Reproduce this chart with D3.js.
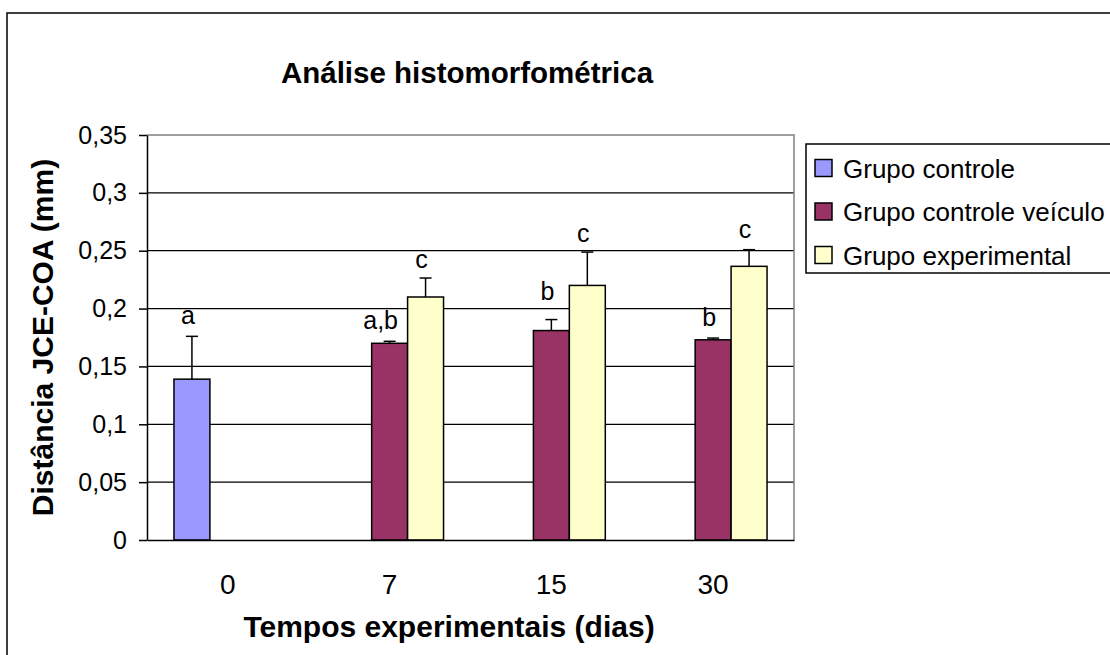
<!DOCTYPE html>
<html><head><meta charset="utf-8">
<script src="https://cdn.jsdelivr.net/npm/d3@7"></script>
<style>
body{margin:0;background:#fff}
svg{display:block}
text{font-family:Arial,"Liberation Sans",sans-serif;fill:#000}
</style>
</head><body>
<svg id="chart" width="1110" height="655"></svg>
<script>
// ---- data ----
const categories = ["0", "7", "15", "30"];
const seriesNames = ["Grupo controle", "Grupo controle veículo", "Grupo experimental"];
const seriesColors = ["#9999FF", "#993366", "#FFFFCC"];
const grupoControle      = [0.139, 0, 0, 0];
const grupoVeiculo       = [0, 0.170, 0.181, 0.173];
const grupoExperimental  = [0, 0.210, 0.220, 0.2365];
const errControle        = [0.037, 0, 0, 0];
const errVeiculo         = [0, 0.0017, 0.0095, 0.0015];
const errExperimental    = [0, 0.0164, 0.0288, 0.0144];
const labelsControle     = ["a", "", "", ""];
const labelsVeiculo      = ["", "a,b", "b", "b"];
const labelsExperimental = ["", "c", "c", "c"];
const labelAtControle     = [0.1867, 0, 0, 0];
const labelAtVeiculo      = [0, 0.1823, 0.2074, 0.1849];
const labelAtExperimental = [0, 0.2353, 0.2577, 0.2609];
const yTicks      = [0, 0.05, 0.1, 0.15, 0.2, 0.25, 0.3, 0.35];
const yTickLabels = ["0", "0,05", "0,1", "0,15", "0,2", "0,25", "0,3", "0,35"];
const titleText  = "Análise histomorfométrica";
const yTitleText = "Distância JCE-COA (mm)";
const xTitleText = "Tempos experimentais (dias)";

const seriesValues = [grupoControle, grupoVeiculo, grupoExperimental];
const seriesErr    = [errControle, errVeiculo, errExperimental];
const seriesLabels = [labelsControle, labelsVeiculo, labelsExperimental];
const seriesLabelAt = [labelAtControle, labelAtVeiculo, labelAtExperimental];

// ---- layout ----
const svg = d3.select("#chart");
const plot = {left: 147, right: 794, top: 135, bottom: 540};

// outer chart border
svg.append("rect").attr("x", 7).attr("y", 13).attr("width", 1200).attr("height", 800)
  .attr("fill", "#fff").attr("stroke", "#000").attr("stroke-width", 1.5);

const y = d3.scaleLinear().domain([0, 0.35]).range([plot.bottom, plot.top]);
const x0 = d3.scaleBand().domain(categories).range([plot.left, plot.right]).padding(0);
const x1 = d3.scaleBand().domain(d3.range(seriesNames.length)).range([0, x0.bandwidth()])
  .paddingInner(0).paddingOuter(0.75);

// gridlines
svg.append("g").selectAll("line").data(yTicks.filter(t => t > 0 && t < 0.35)).join("line")
  .attr("x1", plot.left).attr("x2", plot.right)
  .attr("y1", d => y(d)).attr("y2", d => y(d))
  .attr("stroke", "#000").attr("stroke-width", 1.3);

// plot area top/right border (gray)
svg.append("path")
  .attr("d", `M${plot.left},${y(0.35)}H${plot.right}V${plot.bottom}`)
  .attr("fill", "none").attr("stroke", "#808080").attr("stroke-width", 1.5);

// bars
const groups = svg.append("g").selectAll("g").data(categories).join("g")
  .attr("transform", d => `translate(${x0(d)},0)`);

seriesValues.forEach((vals, s) => {
  groups.filter((d, i) => vals[i] > 0).append("rect")
    .attr("x", x1(s)).attr("width", x1.bandwidth())
    .attr("y", (d) => y(vals[categories.indexOf(d)]))
    .attr("height", (d) => y(0) - y(vals[categories.indexOf(d)]))
    .attr("fill", seriesColors[s]).attr("stroke", "#000").attr("stroke-width", 1.5);
});

// error bars (upper only)
seriesValues.forEach((vals, s) => {
  const errs = seriesErr[s];
  groups.filter((d, i) => vals[i] > 0 && errs[i] > 0).each(function(d) {
    const i = categories.indexOf(d);
    const cx = x1(s) + x1.bandwidth() / 2;
    const g = d3.select(this);
    g.append("line").attr("x1", cx).attr("x2", cx)
      .attr("y1", y(vals[i])).attr("y2", y(vals[i] + errs[i]))
      .attr("stroke", "#000").attr("stroke-width", 1.5);
    g.append("line").attr("x1", cx - 6).attr("x2", cx + 6)
      .attr("y1", y(vals[i] + errs[i])).attr("y2", y(vals[i] + errs[i]))
      .attr("stroke", "#000").attr("stroke-width", 1.5);
  });
});

// significance labels
seriesLabels.forEach((labs, s) => {
  groups.filter((d, i) => labs[i] !== "").append("text")
    .attr("x", d => x1(s) + x1.bandwidth() / 2 - (labs[categories.indexOf(d)].length > 1 ? 9 : 4))
    .attr("y", d => y(seriesLabelAt[s][categories.indexOf(d)]))
    .attr("text-anchor", "middle").attr("font-size", 25)
    .text(d => labs[categories.indexOf(d)]);
});

// y axis
const yAxis = d3.axisLeft(y).tickValues(yTicks)
  .tickFormat((d, i) => yTickLabels[i]).tickSize(8).tickSizeOuter(0).tickPadding(12);
const gy = svg.append("g").attr("transform", `translate(${plot.left},0)`).call(yAxis);
gy.select(".domain").attr("stroke", "#000").attr("stroke-width", 1.5);
gy.selectAll(".tick line").attr("stroke", "#000").attr("stroke-width", 1.5);
gy.selectAll(".tick text").attr("font-size", 25).attr("font-family", "Arial, 'Liberation Sans', sans-serif").attr("fill", "#000");

// x axis
const xAxis = d3.axisBottom(x0).tickSize(0).tickSizeOuter(0).tickPadding(34);
const gx = svg.append("g").attr("transform", `translate(0,${plot.bottom})`).call(xAxis);
gx.select(".domain").attr("stroke", "#000").attr("stroke-width", 1.5);
gx.selectAll(".tick text").attr("font-size", 28).attr("font-family", "Arial, 'Liberation Sans', sans-serif").attr("fill", "#000");

// titles
svg.append("text").attr("x", 467).attr("y", 83).attr("text-anchor", "middle")
  .attr("font-size", 29.5).attr("font-weight", "bold").text(titleText);
svg.append("text").attr("x", 449).attr("y", 637).attr("text-anchor", "middle")
  .attr("font-size", 30).attr("font-weight", "bold").text(xTitleText);
svg.append("text").attr("transform", `translate(53,${(plot.top + plot.bottom) / 2}) rotate(-90)`)
  .attr("text-anchor", "middle")
  .attr("font-size", 30).attr("font-weight", "bold").text(yTitleText);

// legend
const lg = svg.append("g");
lg.append("rect").attr("x", 806).attr("y", 144).attr("width", 400).attr("height", 129)
  .attr("fill", "#fff").attr("stroke", "#000").attr("stroke-width", 1.5);
const rowY = d3.scalePoint().domain(d3.range(seriesNames.length)).range([168, 255]);
seriesNames.forEach((name, s) => {
  lg.append("rect").attr("x", 815).attr("y", rowY(s) - 8.5).attr("width", 17).attr("height", 17)
    .attr("fill", seriesColors[s]).attr("stroke", "#000").attr("stroke-width", 1.5);
  lg.append("text").attr("x", 843).attr("y", rowY(s) + 9.5).attr("font-size", 26).text(name);
});
</script>
</body></html>
